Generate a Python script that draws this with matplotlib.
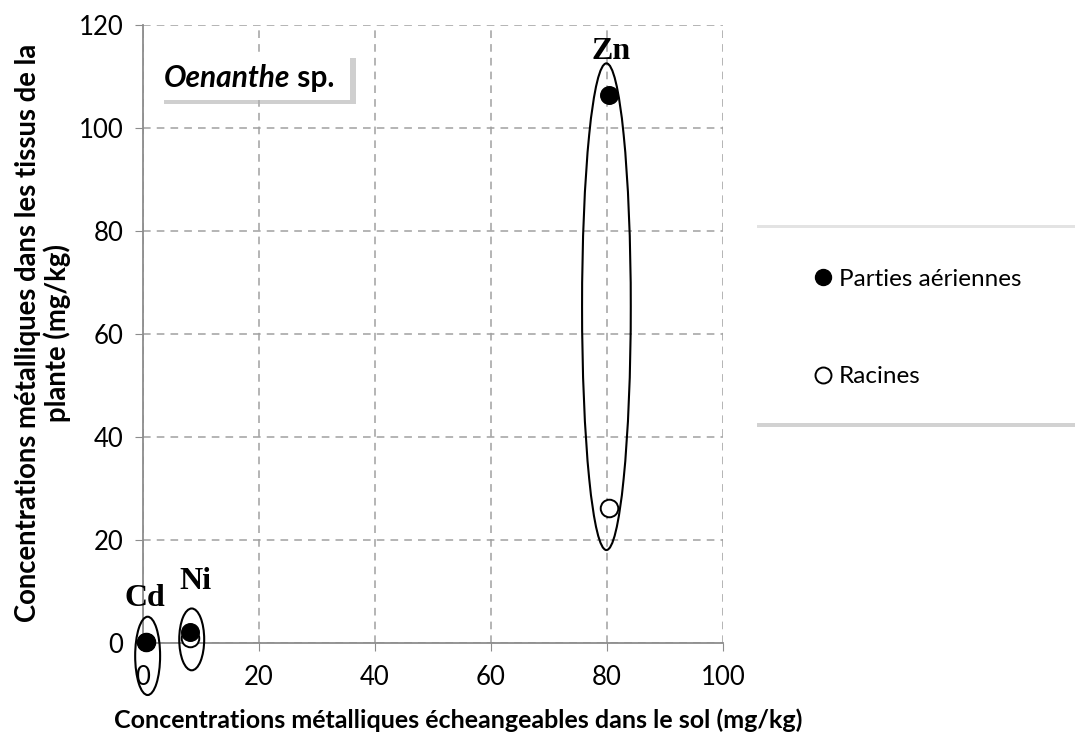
import matplotlib.pyplot as plt
from matplotlib.patches import Ellipse, Rectangle
from matplotlib.lines import Line2D
import matplotlib.patheffects as pe

plt.rcParams['font.family'] = ['Lato', 'DejaVu Sans']

# metals and their exchangeable soil concentrations (mg/kg)
metals = ["Cd", "Ni", "Zn"]
sol = [0.5, 8.1, 80.3]
# plant tissue concentrations (mg/kg)
aeriennes = [0.2, 2.1, 106.4]
racines = [0.1, 1.0, 26.2]

fig = plt.figure(figsize=(10.75, 7.49), dpi=100)
ax = fig.add_axes([143/1075, 1 - 643/749, 580/1075, 618/749])

ax.set_xlim(0, 100)
ax.set_ylim(0, 120)
ax.set_xticks(range(0, 101, 20))
ax.set_yticks(range(0, 121, 20))
ax.grid(True, linestyle=(0, (5, 4)), color="#a0a0a0", linewidth=1.1)
ax.set_axisbelow(True)
for s in ["top", "right"]:
    ax.spines[s].set_visible(False)
for s in ["left", "bottom"]:
    ax.spines[s].set_color("#8c8c8c")
    ax.spines[s].set_linewidth(1.3)
ax.tick_params(length=6, color="#8c8c8c", labelsize=18.5, pad=8)
ax.tick_params(axis="x", pad=10)

# points: roots first so the aerial parts sit on top
ax.scatter(sol, racines, s=160, facecolor="white", edgecolor="black", linewidth=1.4,
           zorder=3, clip_on=False)
ax.scatter(sol, aeriennes, s=160, facecolor="black", edgecolor="black", zorder=4, clip_on=False)

# ellipses grouping each metal
ax.add_patch(Ellipse((0.8, -2.5), 4.3, 15.2, fill=False, ec="black", lw=1.5, clip_on=False, zorder=5))
ax.add_patch(Ellipse((8.4, 0.7), 4.3, 12.0, fill=False, ec="black", lw=1.5, clip_on=False, zorder=5))
ax.add_patch(Ellipse((79.9, 65.3), 8.4, 94.5, fill=False, ec="black", lw=1.5, clip_on=False, zorder=5))

# metal labels
lbl_pos = [(0.4, 8.6), (9.0, 12.0), (80.7, 114.8)]
for m, (lx, ly) in zip(metals, lbl_pos):
    ax.text(lx, ly, m, family="Liberation Serif", fontweight="bold", fontsize=23,
            ha="center", va="center", zorder=6)

# species box
box = Rectangle((0.026, 0.879), 0.331, 0.074, transform=ax.transAxes,
                facecolor="white", edgecolor="none", zorder=6)
box.set_path_effects([pe.SimplePatchShadow(offset=(4, -3), shadow_rgbFace="#b0b0b0", alpha=0.6),
                      pe.Normal()])
ax.add_patch(box)
t1 = ax.text(0.036, 0.914, "Oenanthe", transform=ax.transAxes, fontsize=21.5,
             fontweight="bold", fontstyle="italic", va="center", zorder=7)
ax.annotate(" sp.", xy=(1, 0), xycoords=t1, va="bottom", fontsize=21.5,
            fontweight="bold", zorder=7)

# axis titles
fig.text(43/1075, 1 - 333/749, "Concentrations métalliques dans les tissus de la\nplante (mg/kg)",
         rotation=90, ha="center", va="center", fontsize=19.8, fontweight="bold",
         multialignment="center", linespacing=1.1)
fig.text(458/1075, 1 - 720/749, "Concentrations métalliques écheangeables dans le sol (mg/kg)",
         ha="center", va="center", fontsize=18, fontweight="bold")

# legend panel with a soft shadow
panel = Rectangle((757/1075, 1 - 423/749), 318/1075, 195/749, transform=fig.transFigure,
                  facecolor="white", edgecolor="none", zorder=1)
panel.set_path_effects([pe.SimplePatchShadow(offset=(0, 2), shadow_rgbFace="#c8c8c8", alpha=0.5),
                        pe.SimplePatchShadow(offset=(0, -3), shadow_rgbFace="#b4b4b4", alpha=0.6),
                        pe.Normal()])
fig.add_artist(panel)

handles = [
    Line2D([], [], marker="o", linestyle="none", markersize=11.5, markerfacecolor="black",
           markeredgecolor="black"),
    Line2D([], [], marker="o", linestyle="none", markersize=11.5, markerfacecolor="white",
           markeredgecolor="black", markeredgewidth=1.4),
]
leg = fig.legend(handles, ["Parties aériennes", "Racines"], loc="center left",
                 bbox_to_anchor=(811/1075, 1 - 328/749), frameon=False,
                 fontsize=17.5, labelspacing=3.15, handletextpad=0.15, handlelength=1.0,
                 borderpad=0, borderaxespad=0)
leg.set_zorder(2)

fig.savefig("out.png", dpi=100)
